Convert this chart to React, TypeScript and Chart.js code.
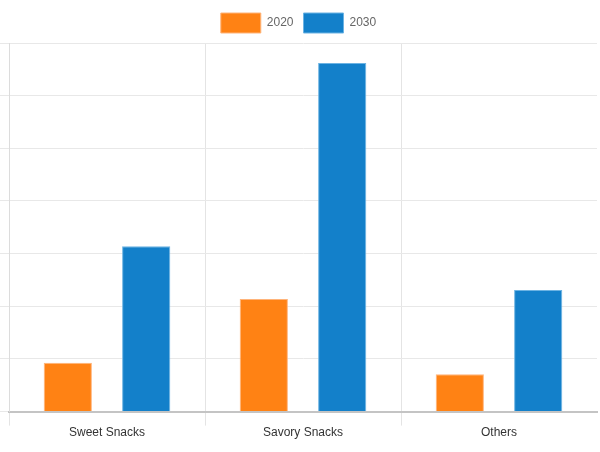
import React, { useEffect, useRef } from "react";
import { Chart, registerables } from "chart.js";

Chart.register(...registerables);

const categories = ["Sweet Snacks", "Savory Snacks", "Others"];
const seriesNames = ["2020", "2030"];
const values2020 = [9.3, 21.4, 7.1];
const values2030 = [31.4, 66.2, 23.1];
const yMax = 70;
const yStep = 10;

const FONT = "'Liberation Sans', Arial, sans-serif";

export default function App() {
  const ref = useRef<HTMLCanvasElement | null>(null);
  useEffect(() => {
    if (!ref.current) return;
    const chart = new Chart(ref.current, {
      type: "bar",
      data: {
        labels: categories,
        datasets: [
          {
            label: seriesNames[0],
            data: values2020,
            backgroundColor: "#ff8214",
            borderColor: "#ffb47a",
            borderWidth: 1,
            categoryPercentage: 0.8,
            barPercentage: 0.615,
          },
          {
            label: seriesNames[1],
            data: values2030,
            backgroundColor: "#1380ca",
            borderColor: "#6cb3e3",
            borderWidth: 1,
            categoryPercentage: 0.8,
            barPercentage: 0.615,
          },
        ],
      },
      options: {
        animation: false,
        responsive: false,
        maintainAspectRatio: false,
        layout: { padding: { top: 3, right: 3, bottom: 12, left: 0 } },
        plugins: {
          legend: {
            position: "top",
            labels: {
              boxWidth: 40,
              boxHeight: 20,
              padding: 10,
              color: "#666",
              font: { family: FONT, size: 12 },
            },
          },
          tooltip: { enabled: false },
        },
        scales: {
          x: {
            grid: {
              color: (ctx: any) => (ctx.type === "tick" ? "#e4e4e4" : "rgba(0,0,0,0)"),
              tickLength: 14,
              offset: true,
            },
            border: { color: "#c4c4c4", width: 2 },
            ticks: {
              color: "#333",
              padding: 0,
              font: { family: FONT, size: 12 },
            },
          },
          y: {
            min: 0,
            max: yMax,
            ticks: { display: false, stepSize: yStep },
            grid: { color: "#e8e8e8", tickLength: 9 },
            border: { color: "#dcdcdc", width: 1 },
          },
        },
      },
    });
    return () => chart.destroy();
  }, []);
  return (
    <div style={{ position: "fixed", left: 0, top: 0, width: 600, height: 452, background: "#fff" }}>
      <canvas ref={ref} width={600} height={452} style={{ width: 600, height: 452, display: "block" }} />
    </div>
  );
}
